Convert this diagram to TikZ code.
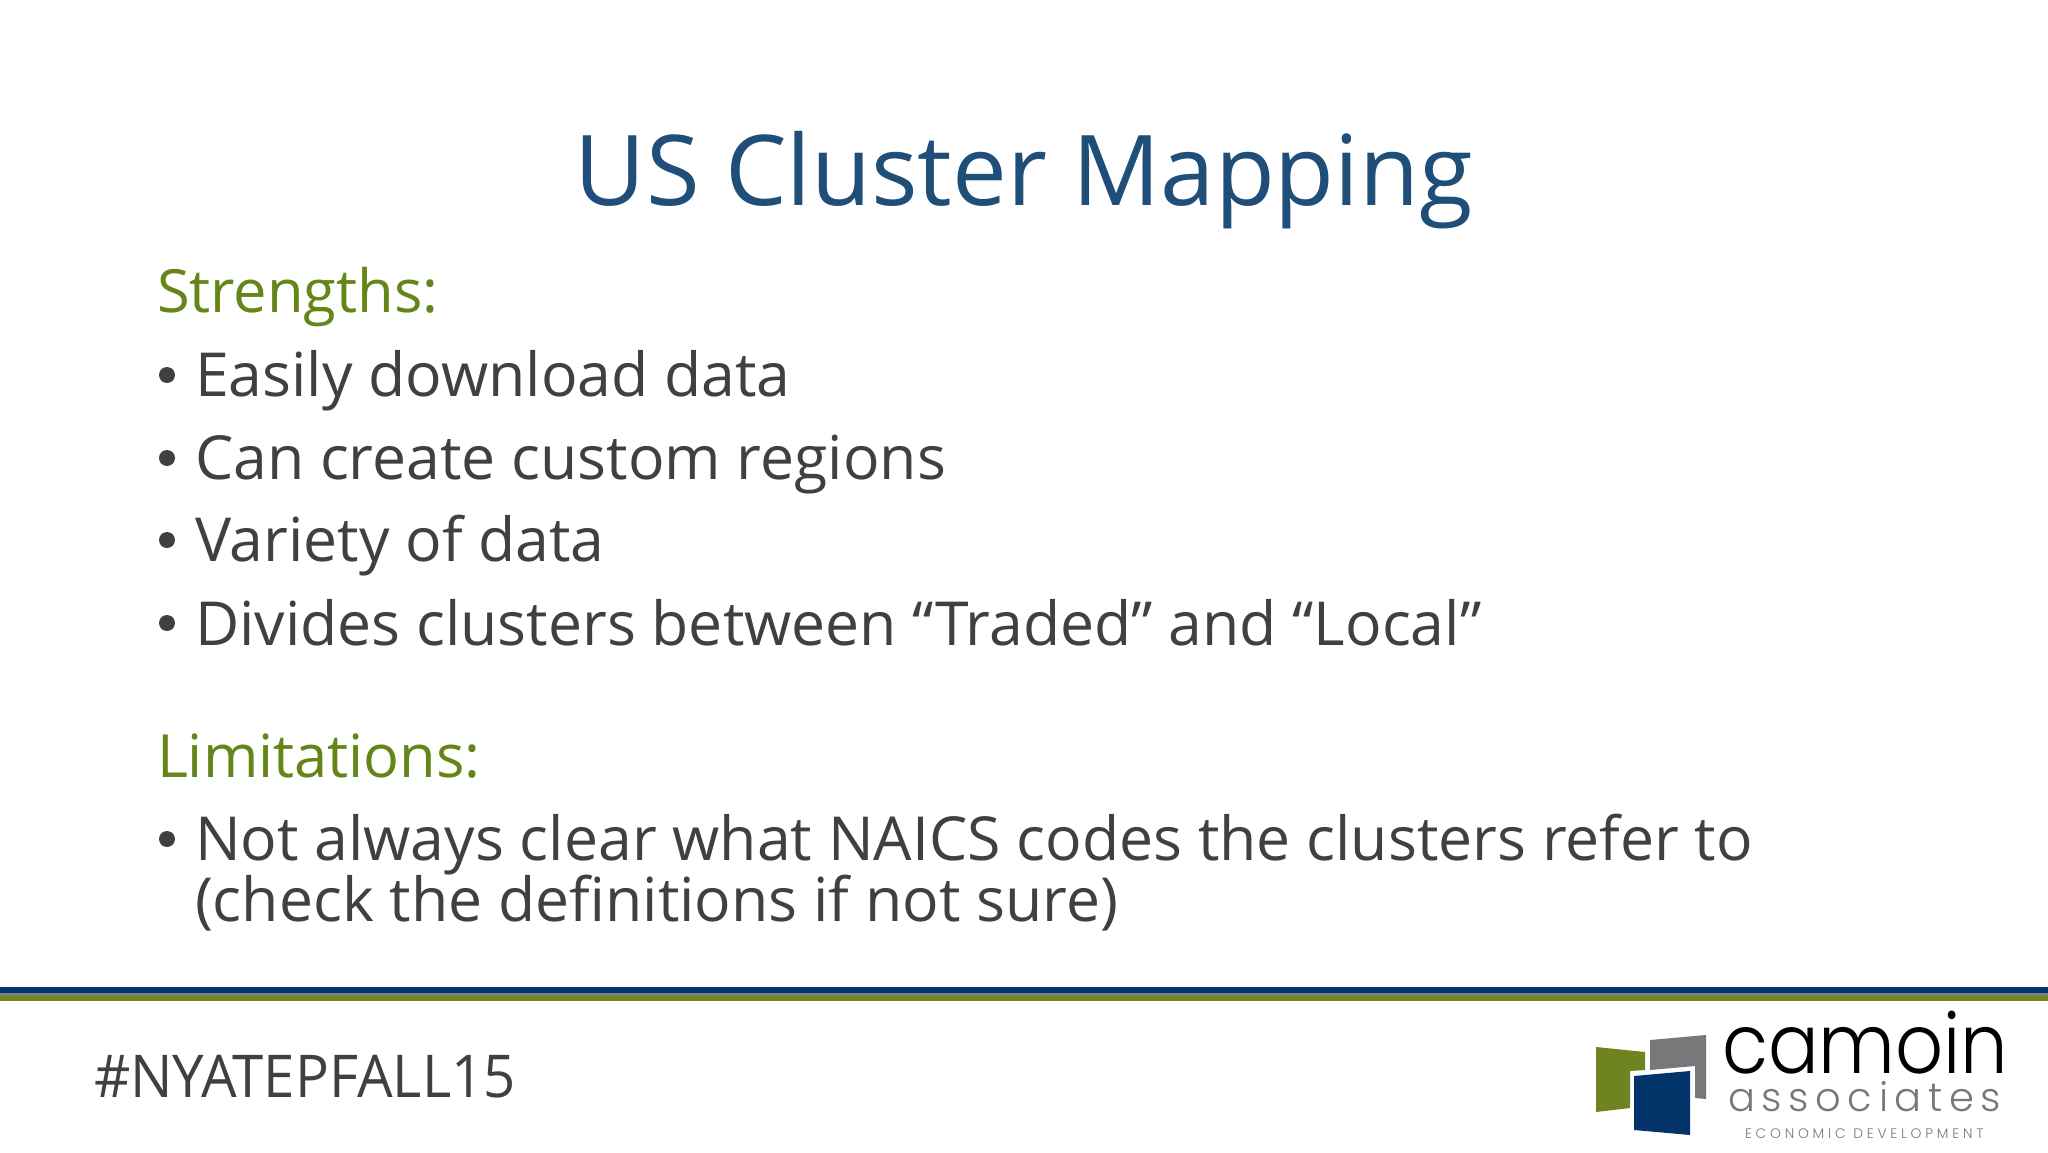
\documentclass[tikz,border=0pt]{standalone}
\usepackage{fontspec}
\setmainfont{Open Sans}
\newfontfamily\tagfont[FakeStretch=0.955]{Open Sans}
\newfontfamily\logofont{Poppins Light}
\newfontfamily\logonarrow[FakeStretch=0.905]{Poppins Light}
\definecolor{titleblue}{HTML}{1F4E79}
\definecolor{headgreen}{HTML}{648518}
\definecolor{bodygray}{HTML}{404040}
\definecolor{barblue}{HTML}{03356B}
\definecolor{bargray}{HTML}{7A7F82}
\definecolor{bargreen}{HTML}{6F8420}
\definecolor{logogray}{HTML}{7A777A}
\tikzset{
 x=1pt,y=-1pt,
 base/.style={anchor=base west,inner sep=0pt,outer sep=0pt},
 head/.style={base,text=headgreen,font=\fontsize{59.6}{60}\selectfont},
 body/.style={base,text=bodygray,font=\fontsize{60.7}{60}\selectfont},
 bul/.style={circle,fill=bodygray,inner sep=0pt,minimum size=16pt}
}
\begin{document}
\begin{tikzpicture}
\useasboundingbox (0,0) rectangle (2048,1152);
\fill[white] (0,0) rectangle (2048,1152);
\node[anchor=base,inner sep=0pt,text=titleblue,font=\fontsize{97.7}{98}\selectfont] (title) at (1024,205) {US Cluster Mapping};
\node[head] (s) at (157,312) {Strengths:};
\node[bul] (b1) at (167,375) {};
\node[body] (t1) at (195,396) {Easily download data};
\node[bul] (b2) at (167,458) {};
\node[body] (t2) at (195,479) {Can create custom regions};
\node[bul] (b3) at (167,540) {};
\node[body] (t3) at (195,561) {Variety of data};
\node[bul] (b4) at (167,623) {};
\node[body] (t4) at (195,645) {Divides clusters between “Traded” and “Local”};
\node[head] (l) at (157,777) {Limitations:};
\node[bul] (b5) at (167,839) {};
\node[body] (t5) at (195,860) {Not always clear what NAICS codes the clusters refer to};
\node[body] (t6) at (195,921) {(check the definitions if not sure)};
\fill[barblue] (0,987) rectangle (2048,993);
\fill[bargray] (0,993) rectangle (2048,996);
\fill[bargreen] (0,996) rectangle (2048,1001);
\node[base,text=bodygray,font=\tagfont\fontsize{59}{59}\selectfont] (tag) at (94,1097) {\#NYATEPFALL15};
% logo
\fill[bargreen] (1596,1047) -- (1645,1052) -- (1645,1070) -- (1630,1071) -- (1630,1108) -- (1596,1112) -- cycle;
\fill[logogray] (1650,1040) -- (1706,1035) -- (1706,1099) -- (1695,1098) -- (1695,1066) -- (1650,1070) -- cycle;
\fill[barblue] (1634,1076) -- (1690,1071) -- (1690,1135) -- (1634,1130) -- cycle;
\node[base,text=black,font=\logonarrow\fontsize{83}{83}\selectfont] (cam) at (1722,1073) {camoin};
\node[base,text=logogray,font=\logofont\fontsize{40}{40}\selectfont] (ass) at (1728,1111) {a\hspace{6.6pt}s\hspace{6.6pt}s\hspace{6.6pt}o\hspace{6.6pt}c\hspace{6.6pt}i\hspace{6.6pt}a\hspace{6.6pt}t\hspace{6.6pt}e\hspace{6.6pt}s};
\node[base,text=logogray,font=\logofont\fontsize{13.8}{14}\selectfont] (eco) at (1745,1138) {E C O N O M I C\ \ D E V E L O P M E N T};
\end{tikzpicture}
\end{document}
